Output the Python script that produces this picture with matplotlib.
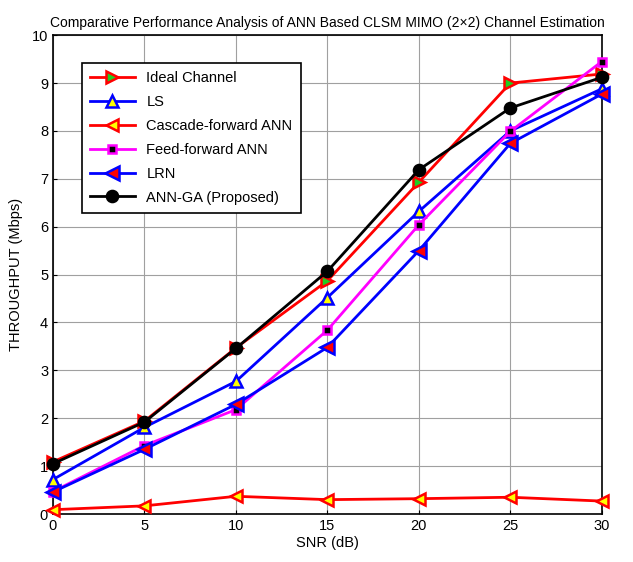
import matplotlib
matplotlib.use("Agg")
import matplotlib.pyplot as plt

plt.rcParams['font.family'] = ['Liberation Sans', 'DejaVu Sans']

snr = [0, 5, 10, 15, 20, 25, 30]
ideal = [1.09, 1.94, 3.47, 4.87, 6.93, 9.0, 9.19]
ls = [0.72, 1.81, 2.77, 4.52, 6.32, 8.0, 8.88]
cascade = [0.09, 0.17, 0.37, 0.3, 0.32, 0.35, 0.27]
ff = [0.47, 1.43, 2.18, 3.84, 6.04, 7.99, 9.45]
lrn = [0.46, 1.35, 2.29, 3.48, 5.5, 7.74, 8.77]
annga = [1.05, 1.92, 3.46, 5.07, 7.19, 8.48, 9.12]

fig = plt.figure(figsize=(6.33, 5.62), dpi=100)
ax = fig.add_axes([0.0837, 0.0854, 0.867, 0.852])

lw = 2
ms = 8
kw = dict(lw=lw, mew=1.8, clip_on=False, zorder=3)
ax.plot(snr, ideal, '->', color='red', ms=ms, mfc='#22cc22', mec='red', label='Ideal Channel', **kw)
ax.plot(snr, ls, '-^', color='blue', ms=ms, mfc='yellow', mec='blue', label='LS', **kw)
ax.plot(snr, cascade, '-<', color='red', ms=ms + 1, mfc='yellow', mec='red', label='Cascade-forward ANN', **kw)
ax.plot(snr, ff, '-s', color='magenta', ms=5.5, mfc='black', mec='magenta', label='Feed-forward ANN', **kw)
ax.plot(snr, lrn, '-<', color='blue', ms=ms + 2, mfc='red', mec='blue', label='LRN', **kw)
ax.plot(snr, annga, '-o', color='black', ms=ms, mfc='black', mec='black', label='ANN-GA (Proposed)', **kw)

ax.set_xlim(0, 30)
ax.set_ylim(0, 10)
ax.set_xticks(snr)
ax.set_yticks(range(0, 11))
ax.tick_params(direction='in', labelsize=10.5, length=3)
ax.grid(True, color='#a0a0a0', lw=0.8)
for s in ax.spines.values():
    s.set_linewidth(1.2)

ax.set_xlabel('SNR (dB)', fontsize=10.5, labelpad=2)
ax.set_ylabel('THROUGHPUT (Mbps)', fontsize=10.5, labelpad=6)
ax.set_title('Comparative Performance Analysis of ANN Based CLSM MIMO (2\u00d72) Channel Estimation',
             fontsize=10, pad=6)

leg = ax.legend(loc='upper left', bbox_to_anchor=(0.052, 0.942), fontsize=10.5, fancybox=False,
                framealpha=1, edgecolor='black', borderaxespad=0, handlelength=3.1,
                labelspacing=0.68, borderpad=0.55)
leg.get_frame().set_linewidth(1.2)

fig.savefig('out.png', dpi=100)
